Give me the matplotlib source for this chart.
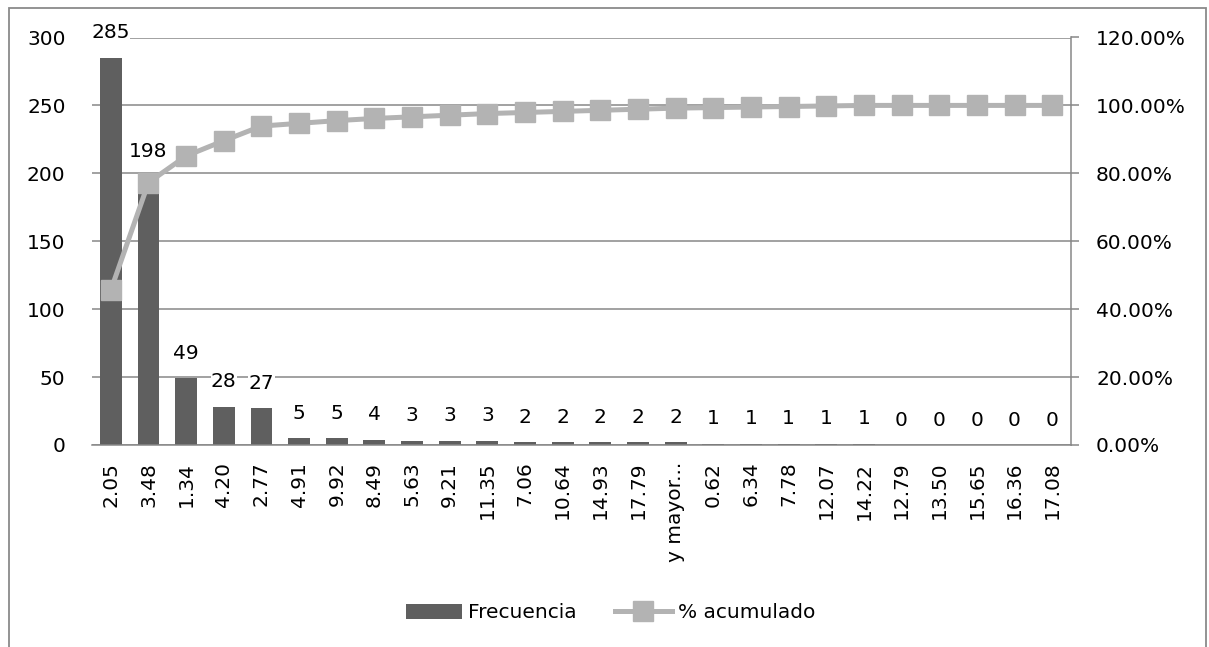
import numpy as np
import matplotlib
matplotlib.use('Agg')
import matplotlib.pyplot as plt
from matplotlib.patches import Rectangle, Patch
from matplotlib.lines import Line2D
from matplotlib.ticker import FuncFormatter, MultipleLocator

# Data
clases = ['2.05', '3.48', '1.34', '4.20', '2.77', '4.91', '9.92', '8.49', '5.63',
          '9.21', '11.35', '7.06', '10.64', '14.93', '17.79', 'y mayor...', '0.62',
          '6.34', '7.78', '12.07', '14.22', '12.79', '13.50', '15.65', '16.36', '17.08']
frecuencia = [285, 198, 49, 28, 27, 5, 5, 4, 3, 3, 3, 2, 2, 2, 2, 2, 1, 1, 1, 1, 1,
              0, 0, 0, 0, 0]
pct_acumulado = [45.60, 77.28, 85.12, 89.60, 93.92, 94.72, 95.52, 96.16, 96.64,
                 97.12, 97.60, 97.92, 98.24, 98.56, 98.88, 99.20, 99.36, 99.52,
                 99.68, 99.84, 100.0, 100.0, 100.0, 100.0, 100.0, 100.0]

plt.rcParams['font.family'] = ['DejaVu Sans']
fs = 14.5
grid_col = '#878787'
bar_col = '#5f5f5f'
line_col = '#b3b3b3'

W, H = 1209, 647
fig = plt.figure(figsize=(W / 100, H / 100), dpi=100)
ax = fig.add_axes([92 / W, 1 - 445 / H, (1071 - 92) / W, (445 - 37.5) / H])

x = np.arange(len(clases))
ax.bar(x, frecuencia, width=0.58, color=bar_col, zorder=2)
ax.set_xlim(-0.5, len(clases) - 0.5)
ax.set_ylim(0, 300)
ax.yaxis.set_major_locator(MultipleLocator(50))
ax.grid(axis='y', color=grid_col, linewidth=1.1, zorder=0)
ax.set_axisbelow(True)

for s in ['top', 'left', 'right']:
    ax.spines[s].set_visible(False)
ax.spines['bottom'].set_color(grid_col)
ax.spines['bottom'].set_linewidth(1.1)

ax.set_xticks(x)
ax.set_xticklabels(clases, rotation=90, fontsize=fs)
ax.tick_params(axis='x', length=0, pad=12)
ax.tick_params(axis='y', length=0, pad=19, labelsize=fs)

# data labels
for xi, v in zip(x, frecuencia):
    ax.annotate(str(v), (xi, v), xytext=(0, 18), textcoords='offset points',
                ha='center', va='center', fontsize=fs, zorder=3,
                bbox=dict(fc='white', ec='none', pad=0.3))

# secondary axis: cumulative %
ax2 = ax.twinx()
ax2.plot(x, np.array(pct_acumulado) / 100, color=line_col, linewidth=3.6,
         marker='s', markersize=14, markerfacecolor=line_col,
         markeredgecolor=line_col, zorder=4)
ax2.set_ylim(0, 1.2)
ax2.yaxis.set_major_locator(MultipleLocator(0.2))
ax2.yaxis.set_major_formatter(FuncFormatter(lambda v, p: f'{v * 100:.2f}%'))
for s in ['top', 'left', 'bottom']:
    ax2.spines[s].set_visible(False)
ax2.spines['right'].set_color(grid_col)
ax2.spines['right'].set_linewidth(1.1)
ax2.tick_params(axis='y', length=6, width=1.1, color=grid_col, pad=12, labelsize=fs)

# legend
handles = [Patch(facecolor=bar_col, edgecolor='none'),
           Line2D([], [], color=line_col, linewidth=3.6, marker='s', markersize=14)]
fig.legend(handles, ['Frecuencia', '% acumulado'], loc='center',
           bbox_to_anchor=(0.505, 1 - 613 / H), ncol=2, frameon=False,
           fontsize=fs, handlelength=2.8, handletextpad=0.3, columnspacing=1.9)

# chart area border
fig.patches.append(Rectangle((9 / W, -0.02), (1206 - 9) / W, 0.02 + (H - 8) / H,
                             transform=fig.transFigure, fill=False,
                             edgecolor='#8a8a8a', linewidth=1.3))

fig.savefig('out.png', dpi=100)
